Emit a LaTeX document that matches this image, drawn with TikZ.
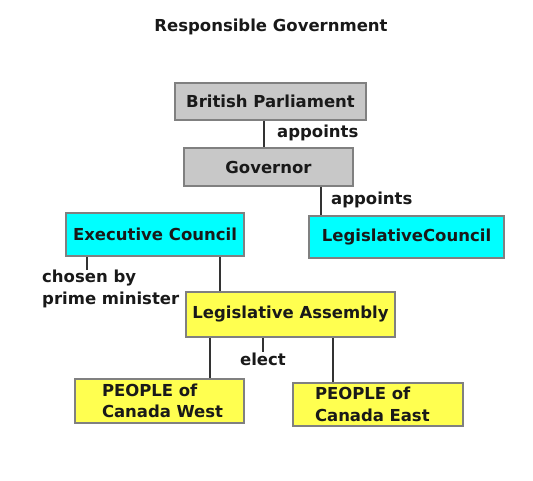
\documentclass[tikz,border=0pt]{standalone}
\usepackage{fontspec}
\setmainfont{DejaVu Sans}
\definecolor{boxcyan}{RGB}{0,255,255}
\definecolor{boxyellow}{RGB}{255,255,80}
\definecolor{boxgrey}{RGB}{200,200,200}
\definecolor{boxedge}{RGB}{128,128,128}
\definecolor{txt}{RGB}{25,25,25}
\begin{document}
\begin{tikzpicture}[x=1pt,y=-1pt,
  every node/.style={font=\bfseries\fontsize{16.5}{21.5}\selectfont, text=txt, inner sep=0pt},
  box/.style={draw=boxedge, line width=1.6pt, minimum height=#1},
  greybox/.style={box=37, fill=boxgrey},
  cyanbox/.style={box=42, fill=boxcyan},
  yellowbox/.style={box=44, fill=boxyellow},
  conn/.style={draw=black!80, line width=1.3pt}]
\useasboundingbox (0,0) rectangle (533,480);
\node (title) at (271,27) {Responsible Government};
\node[greybox, minimum width=191] (bp) at (270.5,101.5) {British Parliament};
\node[greybox, minimum width=169, minimum height=38] (gov) at (268.5,167) {Governor};
\node[cyanbox, minimum width=178, minimum height=43] (ec) at (155,234.5) {Executive Council};
\node[cyanbox, minimum width=195] (lc) at (406.5,237) {LegislativeCouncil};
\node[yellowbox, minimum width=209, minimum height=45] (la) at (290.5,314.5) {Legislative Assembly};
\node[yellowbox, minimum width=169, text width=169, align=left] (pw) at (159.5,401) {\hspace*{27pt}PEOPLE of\\\hspace*{27pt}Canada West};
\node[yellowbox, minimum width=170, minimum height=43, text width=170, align=left] (pe) at (378,404.5) {\hspace*{22pt}PEOPLE of\\\hspace*{22pt}Canada East};
\node[anchor=west] (ap1) at (277,133) {appoints};
\node[anchor=west] (ap2) at (331,200) {appoints};
\node[anchor=north west, align=left] (cb) at (42,270) {chosen by\\prime minister};
\node (el) at (263,359) {elect};
\coordinate (xa) at (264,0);
\coordinate (xb) at (321,0);
\coordinate (xc) at (87,0);
\coordinate (xd) at (220,0);
\coordinate (xe) at (210,0);
\coordinate (xf) at (333,0);
\coordinate (xg) at (263,0);
\draw[conn] (bp.south -| xa) -- (gov.north -| xa);
\draw[conn] (gov.south -| xb) -- (lc.north -| xb);
\draw[conn] (ec.south -| xc) -- (cb.north -| xc);
\draw[conn] (ec.south -| xd) -- (la.north -| xd);
\draw[conn] (la.south -| xe) -- (pw.north -| xe);
\draw[conn] (la.south -| xf) -- (pe.north -| xf);
\draw[conn] (la.south -| xg) -- (el.north -| xg);
\end{tikzpicture}
\end{document}
